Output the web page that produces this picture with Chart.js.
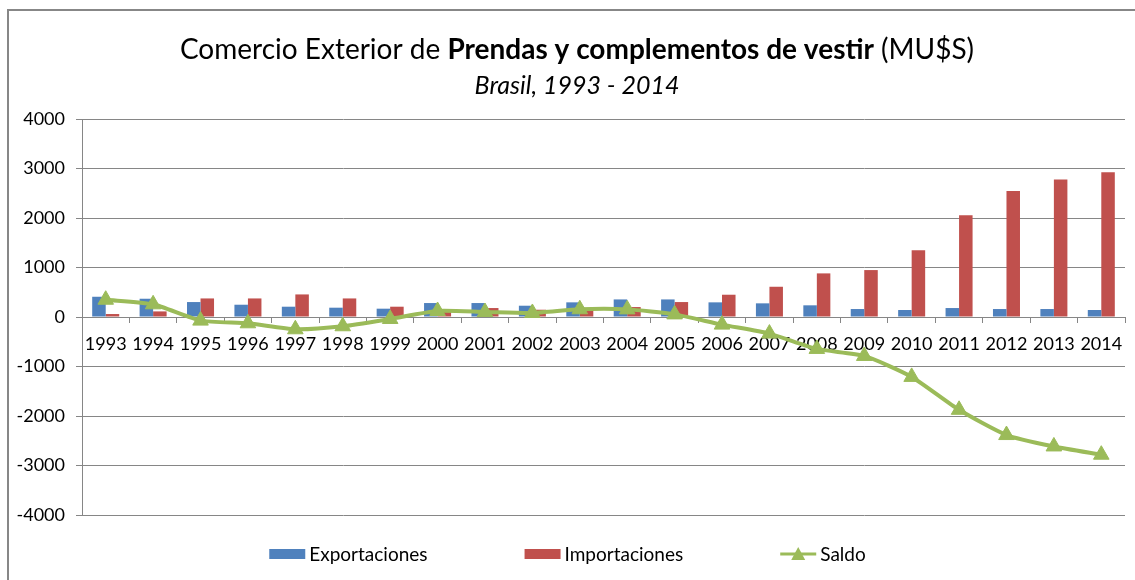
<!DOCTYPE html>
<html>
<head>
<meta charset="utf-8">
<script src="https://cdn.jsdelivr.net/npm/chart.js@4.4.1/dist/chart.umd.min.js"></script>
<style>
  html, body { margin: 0; padding: 0; background: #fff; }
  #wrap { width: 1135px; height: 580px; position: relative; }
</style>
</head>
<body>
<div id="wrap"><canvas id="chart" width="1135" height="580"></canvas></div>
<script>
// Comercio exterior de prendas - Brasil 1993-2014 (MU$S)
const years = ['1993', '1994', '1995', '1996', '1997', '1998', '1999', '2000', '2001', '2002', '2003',
  '2004', '2005', '2006', '2007', '2008', '2009', '2010', '2011', '2012', '2013', '2014'];

const exportaciones = [409, 369, 302, 248, 208, 188, 168, 282, 282, 228, 296,
  355, 355, 296, 276, 236, 161, 141, 181, 161, 161, 141];

const importaciones = [60, 113, 375, 375, 456, 375, 208, 161, 181, 147, 140,
  201, 302, 450, 611, 881, 948, 1351, 2056, 2546, 2776, 2923];

const saldo = [349, 256, -73, -127, -248, -187, -40, 121, 101, 81, 156,
  154, 53, -154, -335, -645, -787, -1210, -1875, -2385, -2615, -2782];

const yTicks = [4000, 3000, 2000, 1000, 0, -1000, -2000, -3000, -4000];

const FONT = 'Lato, "Open Sans", sans-serif';
const AXIS_GRAY = '#868686';
const BLUE = '#4F81BD';
const RED = '#C0504D';
const GREEN = '#9BBB59';

// frame + titles
const framePlugin = {
  id: 'frame',
  beforeDraw(chart) {
    const ctx = chart.ctx;
    ctx.save();
    ctx.fillStyle = '#fff';
    ctx.fillRect(0, 0, chart.width, chart.height);
    ctx.strokeStyle = '#878787';
    ctx.lineWidth = 2;
    ctx.strokeRect(8, 10, chart.width + 20, chart.height + 20);
    ctx.restore();
  },
  afterDraw(chart) {
    const ctx = chart.ctx;
    const cx = 577;
    ctx.save();
    ctx.fillStyle = '#000';
    ctx.textBaseline = 'alphabetic';

    const parts = [
      { t: 'Comercio Exterior de ', f: '28px ' + FONT },
      { t: 'Prendas y complementos de vestir', f: 'bold 28px ' + FONT },
      { t: ' (MU$S)', f: '28px ' + FONT }
    ];
    let total = 0;
    parts.forEach(p => { ctx.font = p.f; p.w = ctx.measureText(p.t).width; total += p.w; });
    let x = cx - total / 2;
    parts.forEach(p => { ctx.font = p.f; ctx.fillText(p.t, x, 59); x += p.w; });

    ctx.font = 'italic 25px ' + FONT;
    ctx.textAlign = 'center';
    ctx.fillText('Brasil, 1993 - 2014', cx, 94);
    ctx.restore();
  }
};

// legend drawn by hand so the line entry gets its triangle
const legendPlugin = {
  id: 'customLegend',
  afterDraw(chart) {
    const ctx = chart.ctx;
    const y = 554;
    const gap = 97;
    ctx.save();
    ctx.font = '19px ' + FONT;
    ctx.textBaseline = 'middle';
    const items = chart.data.datasets.map(ds => ({
      label: ds.label, type: ds.type, color: ds.type === 'line' ? ds.borderColor : ds.backgroundColor
    }));
    items.forEach(it => { it.w = 36 + 4 + ctx.measureText(it.label).width; });
    let total = items.reduce((s, it) => s + it.w, 0) + gap * (items.length - 1);
    let x = chart.width / 2 - total / 2;
    items.forEach(it => {
      if (it.type === 'line') {
        ctx.strokeStyle = it.color;
        ctx.lineWidth = 3;
        ctx.beginPath();
        ctx.moveTo(x, y);
        ctx.lineTo(x + 36, y);
        ctx.stroke();
        ctx.fillStyle = it.color;
        ctx.beginPath();
        ctx.moveTo(x + 18, y - 7);
        ctx.lineTo(x + 25, y + 6);
        ctx.lineTo(x + 11, y + 6);
        ctx.closePath();
        ctx.fill();
      } else {
        ctx.fillStyle = it.color;
        ctx.fillRect(x, y - 5, 36, 10);
      }
      ctx.fillStyle = '#000';
      ctx.fillText(it.label, x + 40, y + 1);
      x += it.w + gap;
    });
    ctx.restore();
  }
};

new Chart(document.getElementById('chart'), {
  data: {
    labels: years,
    datasets: [
      {
        type: 'bar',
        label: 'Exportaciones',
        data: exportaciones,
        backgroundColor: BLUE,
        categoryPercentage: 0.57,
        barPercentage: 1.0,
        order: 2
      },
      {
        type: 'bar',
        label: 'Importaciones',
        data: importaciones,
        backgroundColor: RED,
        categoryPercentage: 0.57,
        barPercentage: 1.0,
        order: 2
      },
      {
        type: 'line',
        label: 'Saldo',
        data: saldo,
        borderColor: GREEN,
        backgroundColor: GREEN,
        borderWidth: 4,
        tension: 0.2,
        pointStyle: 'triangle',
        pointRadius: 9,
        pointBackgroundColor: GREEN,
        pointBorderColor: GREEN,
        pointBorderWidth: 1,
        order: 1
      }
    ]
  },
  options: {
    responsive: false,
    animation: false,
    layout: { padding: { left: 0, right: 9, top: 119, bottom: 65 } },
    plugins: {
      legend: { display: false },
      title: { display: false },
      tooltip: { enabled: false }
    },
    scales: {
      x: {
        position: { y: 0 },
        offset: true,
        grid: {
          offset: true,
          drawOnChartArea: false,
          drawTicks: true,
          tickLength: 5,
          color: AXIS_GRAY
        },
        border: { display: true, color: AXIS_GRAY, width: 1 },
        ticks: {
          color: '#000',
          font: { family: FONT, size: 18 },
          padding: 11,
          maxRotation: 0,
          autoSkip: false
        }
      },
      y: {
        min: -4000,
        max: 4000,
        afterFit(scale) { scale.width = 82; },
        afterBuildTicks(scale) { scale.ticks = yTicks.map(v => ({ value: v })); },
        grid: {
          color: AXIS_GRAY,
          tickLength: 6,
          drawTicks: true
        },
        border: { display: true, color: AXIS_GRAY, width: 1 },
        ticks: {
          color: '#000',
          font: { family: FONT, size: 18 },
          padding: 11,
          callback: v => String(v)
        }
      }
    }
  },
  plugins: [framePlugin, legendPlugin]
});
</script>
</body>
</html>
